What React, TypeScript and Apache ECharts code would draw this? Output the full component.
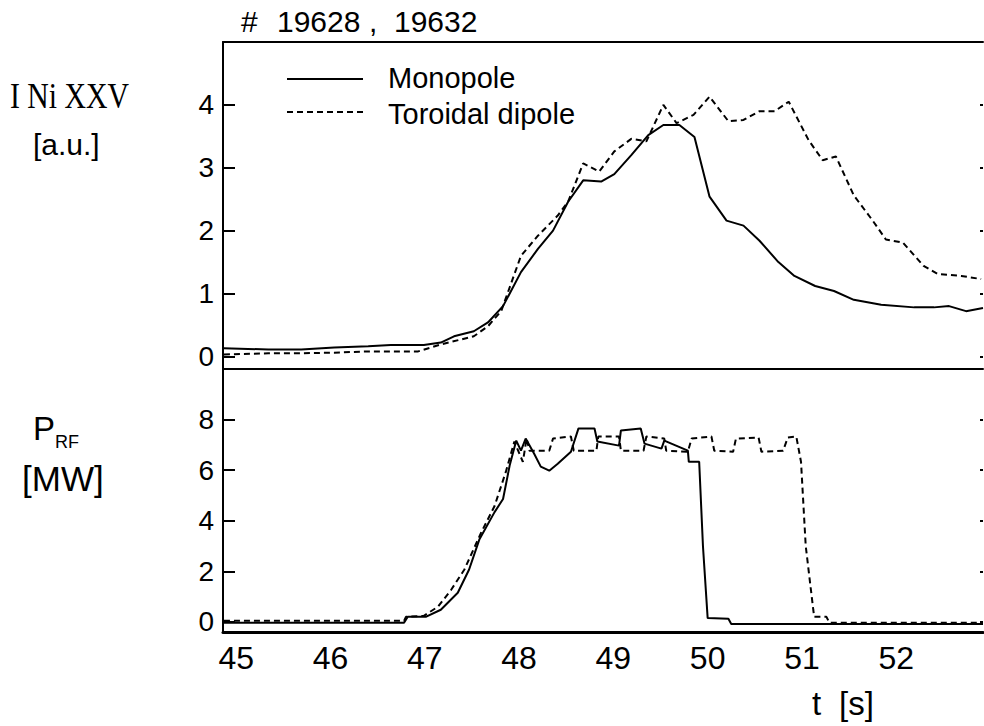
import React, { useEffect, useRef } from "react";
import * as echarts from "echarts";

// Upper panel: I Ni XXV [a.u.]
const monoTopT = [44.87, 45.34, 45.69, 46.04, 46.40, 46.64, 46.99, 47.17, 47.31, 47.52, 47.67, 47.83, 48.02, 48.20, 48.36, 48.52, 48.68, 48.87, 49.01, 49.19, 49.37, 49.53, 49.70, 49.86, 50.02, 50.20, 50.38, 50.55, 50.75, 50.92, 51.14, 51.34, 51.55, 51.84, 52.19, 52.40, 52.56, 52.74, 52.92];
const monoTopV = [0.13, 0.11, 0.11, 0.14, 0.16, 0.18, 0.18, 0.22, 0.32, 0.40, 0.54, 0.80, 1.34, 1.71, 2.0, 2.46, 2.80, 2.78, 2.90, 3.2, 3.52, 3.68, 3.68, 3.49, 2.54, 2.16, 2.08, 1.84, 1.50, 1.28, 1.12, 1.04, 0.90, 0.82, 0.78, 0.78, 0.80, 0.72, 0.77];
const toroTopT = [44.87, 45.34, 45.69, 46.04, 46.40, 46.61, 46.93, 47.17, 47.52, 47.67, 47.81, 48.02, 48.20, 48.41, 48.52, 48.68, 48.85, 49.01, 49.19, 49.35, 49.53, 49.67, 49.85, 50.02, 50.22, 50.38, 50.55, 50.71, 50.86, 51.07, 51.22, 51.36, 51.55, 51.75, 51.89, 52.07, 52.29, 52.44, 52.69, 52.90];
const toroTopV = [0.03, 0.05, 0.05, 0.06, 0.08, 0.08, 0.08, 0.19, 0.32, 0.48, 0.72, 1.60, 1.92, 2.24, 2.46, 3.07, 2.94, 3.26, 3.46, 3.42, 4.0, 3.71, 3.84, 4.13, 3.74, 3.76, 3.90, 3.90, 4.05, 3.44, 3.12, 3.18, 2.56, 2.16, 1.86, 1.81, 1.44, 1.31, 1.28, 1.23];

// Lower panel: P_RF [MW]
const monoBotT = [44.87, 46.78, 46.82, 47.01, 47.17, 47.35, 47.47, 47.58, 47.74, 47.83, 47.90, 47.97, 48.02, 48.07, 48.16, 48.23, 48.32, 48.41, 48.55, 48.63, 48.80, 48.83, 49.06, 49.08, 49.29, 49.33, 49.51, 49.54, 49.79, 49.80, 49.91, 49.95, 50.0, 50.22, 50.25, 52.92];
const monoBotV = [-0.03, -0.03, 0.2, 0.2, 0.48, 1.15, 2.07, 3.27, 4.34, 4.86, 6.18, 7.17, 6.77, 7.25, 6.65, 6.14, 5.98, 6.25, 6.73, 7.65, 7.65, 7.13, 6.97, 7.57, 7.65, 7.05, 6.85, 7.17, 6.77, 6.33, 6.33, 3.0, 0.15, 0.12, -0.08, -0.08];
const toroBotT = [44.87, 46.78, 46.80, 46.99, 47.14, 47.28, 47.42, 47.60, 47.74, 47.86, 47.95, 48.04, 48.08, 48.11, 48.32, 48.36, 48.55, 48.58, 48.82, 48.84, 49.06, 49.08, 49.32, 49.35, 49.54, 49.56, 49.79, 49.83, 50.04, 50.07, 50.27, 50.30, 50.54, 50.57, 50.80, 50.85, 50.94, 50.99, 51.04, 51.12, 51.13, 51.26, 51.29, 52.92];
const toroBotV = [0.04, 0.04, 0.2, 0.24, 0.6, 1.27, 2.07, 3.55, 4.58, 5.94, 7.13, 6.33, 7.25, 6.77, 6.77, 7.25, 7.33, 6.77, 6.77, 7.33, 7.33, 6.77, 6.77, 7.33, 7.25, 6.77, 6.73, 7.25, 7.33, 6.77, 6.73, 7.25, 7.29, 6.73, 6.77, 7.29, 7.33, 6.33, 3.0, 0.48, 0.2, 0.2, -0.03, -0.03];

const xTicks = [45, 46, 47, 48, 49, 50, 51, 52];
const yTopTicks = [0, 1, 2, 3, 4];
const yBotTicks = [0, 2, 4, 6, 8];
const seriesNames = ["Monopole", "Toroidal dipole"];

const SANS = "'Liberation Sans', Arial, sans-serif";
const SERIF = "'Liberation Serif', 'Times New Roman', serif";

const zip = (t: number[], v: number[]) => t.map((x, i) => [x, v[i]]);

export default function App() {
  const ref = useRef<HTMLDivElement>(null);
  useEffect(() => {
    if (!ref.current) return;
    const chart = echarts.init(ref.current, null, { renderer: "svg" });
    const X_MIN = 44.86;
    const X_MAX = 52.92;
    const leftAxis = (gridIndex: number, min: number, max: number, ticks: number[]) => ({
      type: "value",
      gridIndex,
      position: "left",
      min,
      max,
      splitLine: { show: false },
      axisLine: { show: true, onZero: false, lineStyle: { color: "#000", width: 2 } },
      axisTick: { show: true, inside: true, length: 12, customValues: ticks, lineStyle: { color: "#000", width: 2 } },
      axisLabel: { show: true, customValues: ticks, margin: 9, fontSize: 28, fontFamily: SANS, color: "#000" },
    });
    const rightAxis = (gridIndex: number, min: number, max: number, ticks: number[]) => ({
      type: "value",
      gridIndex,
      position: "right",
      min,
      max,
      splitLine: { show: false },
      axisLine: { show: false, onZero: false },
      axisTick: { show: true, inside: true, length: 3, customValues: ticks, lineStyle: { color: "#000", width: 2 } },
      axisLabel: { show: false },
    });
    const line = (xi: number, yi: number, data: number[][], dashed: boolean, name: string) => ({
      type: "line",
      name,
      xAxisIndex: xi,
      yAxisIndex: yi,
      data,
      showSymbol: false,
      symbol: "none",
      lineStyle: { color: "#000", width: 2, type: dashed ? [6, 4] : "solid" },
      silent: true,
    });
    const txt = (x: number, y: number, text: string, fontSize: number, fontFamily = SANS, extra: any = {}) => ({
      type: "text", x, y, ...extra,
      style: { text, fontSize, fontFamily, fill: "#000", verticalAlign: "middle", align: "left" },
    });
    chart.setOption({
      animation: false,
      backgroundColor: "#fff",
      grid: [
        { left: 223, top: 42, right: 1, height: 327 },
        { left: 223, top: 369, right: 1, height: 263 },
      ],
      xAxis: [
        {
          type: "value", gridIndex: 0, position: "bottom", min: X_MIN, max: X_MAX,
          splitLine: { show: false },
          axisLine: { show: true, onZero: false, lineStyle: { color: "#000", width: 2 } },
          axisTick: { show: false }, axisLabel: { show: false },
        },
        {
          type: "value", gridIndex: 0, position: "top", min: X_MIN, max: X_MAX,
          splitLine: { show: false },
          axisLine: { show: true, onZero: false, lineStyle: { color: "#000", width: 2 } },
          axisTick: { show: false }, axisLabel: { show: false },
        },
        {
          type: "value", gridIndex: 1, position: "bottom", min: X_MIN, max: X_MAX,
          splitLine: { show: false },
          axisLine: { show: true, onZero: false, lineStyle: { color: "#000", width: 3 } },
          axisTick: { show: false },
          axisLabel: { show: true, customValues: xTicks, margin: 10, fontSize: 32, fontFamily: SANS, color: "#000" },
        },
      ],
      yAxis: [
        leftAxis(0, -0.2, 5, yTopTicks),
        rightAxis(0, -0.2, 5, yTopTicks),
        leftAxis(1, -0.4, 10, yBotTicks),
        rightAxis(1, -0.4, 10, yBotTicks),
      ],
      series: [
        line(0, 0, zip(monoTopT, monoTopV), false, seriesNames[0]),
        line(0, 0, zip(toroTopT, toroTopV), true, seriesNames[1]),
        line(2, 2, zip(monoBotT, monoBotV), false, seriesNames[0]),
        line(2, 2, zip(toroBotT, toroBotV), true, seriesNames[1]),
      ],
      graphic: [
        // title
        txt(241, 21, "#", 30),
        txt(277, 21, "19628", 30),
        txt(369, 21, ",", 30),
        txt(394, 21, "19632", 30),
        // legend
        { type: "line", shape: { x1: 287, y1: 79, x2: 363, y2: 79 }, style: { stroke: "#000", lineWidth: 2 } },
        { type: "line", shape: { x1: 287, y1: 112, x2: 363, y2: 112 }, style: { stroke: "#000", lineWidth: 2, lineDash: [6, 4] } },
        txt(388, 78, seriesNames[0], 29),
        txt(388, 114, seriesNames[1], 29),
        // left labels
        txt(10, 96, "I Ni XXV", 35, SERIF, { scaleX: 0.85 }),
        txt(33, 144, "[a.u.]", 30),
        txt(33, 428, "P", 33),
        txt(55, 442, "RF", 18),
        txt(22, 478, "[MW]", 35),
        // x axis title
        txt(812, 703, "t", 33),
        txt(839, 703, "[s]", 33),
      ],
    });
    return () => chart.dispose();
  }, []);
  return <div ref={ref} style={{ position: "absolute", left: 0, top: 0, width: 984, height: 726 }} />;
}
